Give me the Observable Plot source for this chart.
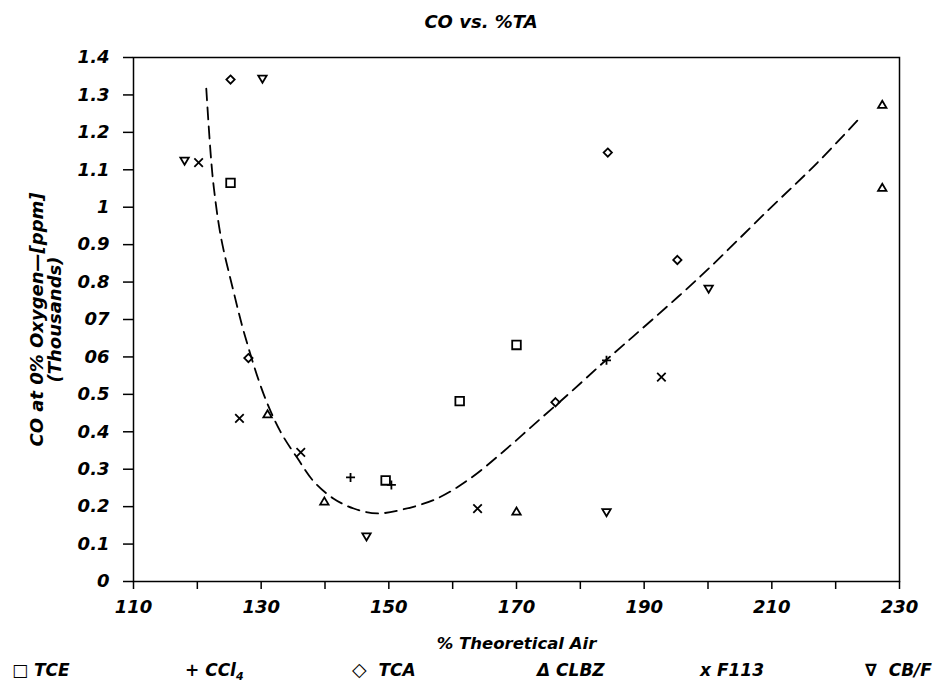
<!DOCTYPE html>
<html>
<head>
<meta charset="utf-8">
<script src="https://cdn.jsdelivr.net/npm/d3@7"></script>
<script src="https://cdn.jsdelivr.net/npm/@observablehq/plot@0.6"></script>
<style>
  html, body { margin: 0; padding: 0; background: #fff; }
  #wrap { position: relative; width: 949px; height: 684px; overflow: hidden; font-family: "DejaVu Sans", sans-serif; }
  #title { position: absolute; top: 11px; left: 481px; transform: translateX(-50%); font-size: 18px; font-style: italic; font-weight: bold; white-space: nowrap; }
  .leg { position: absolute; top: 661px; font-size: 17px; line-height: 18px; font-style: italic; font-weight: bold; white-space: nowrap; }
  .leg sub { font-size: 11px; line-height: 0; }
  .leg .dia { font-size: 19px; line-height: 0; font-style: normal; }
</style>
</head>
<body>
<div id="wrap">
  <div id="chart"></div>
  <div id="title">CO vs. %TA</div>
  <div id="legend"></div>
</div>
<script>
// ---- data ----
const seriesNames = ["TCE", "CCl4", "TCA", "CLBZ", "F113", "CB/F"];
const tceX = [125.2, 149.5, 161.1, 170.0];
const tceY = [1.065, 0.270, 0.482, 0.632];
const ccl4X = [144.0, 150.4, 184.1];
const ccl4Y = [0.278, 0.258, 0.591];
const tcaX = [125.2, 128.0, 176.1, 184.3, 195.2];
const tcaY = [1.341, 0.597, 0.479, 1.146, 0.859];
const clbzX = [131.0, 139.9, 170.0, 227.3, 227.3];
const clbzY = [0.447, 0.214, 0.187, 1.274, 1.052];
const f113X = [120.2, 126.6, 136.2, 163.9, 192.7];
const f113Y = [1.119, 0.436, 0.345, 0.195, 0.546];
const cbfX = [118.0, 130.2, 146.5, 184.1, 200.1];
const cbfY = [1.124, 1.343, 0.120, 0.185, 0.782];
const curveX = [121.4, 122.1, 122.6, 123.7, 125.6, 127.4, 130.4, 133.0, 135.7, 138.2, 141.3, 144.5, 148.2, 152.3, 157.6, 162.8, 168.0, 173.3, 178.5, 183.6, 188.3, 198.8, 209.3, 217.2, 223.7];
const curveY = [1.317, 1.140, 1.050, 0.920, 0.780, 0.660, 0.500, 0.401, 0.329, 0.268, 0.222, 0.195, 0.182, 0.193, 0.222, 0.276, 0.348, 0.428, 0.506, 0.585, 0.655, 0.815, 0.990, 1.120, 1.237];
const xTicks = [110, 120, 130, 140, 150, 160, 170, 180, 190, 200, 210, 220, 230];
const xTickLabels = ["110", "", "130", "", "150", "", "170", "", "190", "", "210", "", "230"];
const yTicks = [0, 0.1, 0.2, 0.3, 0.4, 0.5, 0.6, 0.7, 0.8, 0.9, 1, 1.1, 1.2, 1.3, 1.4];
const yTickLabels = ["0", "0.1", "0.2", "0.3", "0.4", "0.5", "06", "07", "0.8", "0.9", "1", "1.1", "1.2", "1.3", "1.4"];
const xLabel = "% Theoretical Air";
const yLabel1 = "CO at 0% Oxygen\u2014[ppm]";
const yLabel2 = "(Thousands)";

// ---- custom symbols ----
const rad = s => Math.sqrt(s / Math.PI);
const symSquare = { draw(c, s) { const r = rad(s); c.rect(-r, -r, 2 * r, 2 * r); } };
const symDiamond = { draw(c, s) { const r = rad(s) * 1.15; c.moveTo(0, -r); c.lineTo(r, 0); c.lineTo(0, r); c.lineTo(-r, 0); c.closePath(); } };
const symTriUp = { draw(c, s) { const r = rad(s); c.moveTo(0, -0.95 * r); c.lineTo(r, 0.75 * r); c.lineTo(-r, 0.75 * r); c.closePath(); } };
const symTriDown = { draw(c, s) { const r = rad(s); c.moveTo(0, 0.95 * r); c.lineTo(r, -0.75 * r); c.lineTo(-r, -0.75 * r); c.closePath(); } };
const symPlus = { draw(c, s) { const r = rad(s); c.moveTo(-r, 0); c.lineTo(r, 0); c.moveTo(0, -r); c.lineTo(0, r); } };
const symTimes = { draw(c, s) { const r = rad(s) * 0.85; c.moveTo(-r, -r); c.lineTo(r, r); c.moveTo(-r, r); c.lineTo(r, -r); } };

const zipPts = (xs, ys) => xs.map((x, i) => ({x, y: ys[i]}));
const series = [
  {pts: zipPts(tceX, tceY), sym: symSquare, r: 4.3},
  {pts: zipPts(ccl4X, ccl4Y), sym: symPlus, r: 4.5},
  {pts: zipPts(tcaX, tcaY), sym: symDiamond, r: 3.6},
  {pts: zipPts(clbzX, clbzY), sym: symTriUp, r: 4.2},
  {pts: zipPts(f113X, f113Y), sym: symTimes, r: 5},
  {pts: zipPts(cbfX, cbfY), sym: symTriDown, r: 4.2}
];
const curve = zipPts(curveX, curveY);

const plot = Plot.plot({
  width: 949,
  height: 684,
  marginLeft: 133,
  marginRight: 50,
  marginTop: 57,
  marginBottom: 103,
  style: {fontFamily: "DejaVu Sans, sans-serif", fontSize: "18px", fontWeight: "bold", fontStyle: "italic", color: "black", background: "white"},
  x: {domain: [110, 230]},
  y: {domain: [0, 1.4]},
  marks: [
    Plot.frame({stroke: "black", strokeWidth: 1.5}),
    Plot.axisY({ticks: yTicks, tickFormat: d => yTickLabels[Math.round(d * 10)], tickSize: 10, tickPadding: 14, strokeWidth: 1.5, label: null}),
    Plot.axisX({ticks: xTicks, tickFormat: d => xTickLabels[Math.round((d - 110) / 10)], tickSize: 8, tickPadding: 11, strokeWidth: 1.5, label: null}),
    Plot.text([xLabel], {frameAnchor: "bottom", dy: 67, lineAnchor: "bottom", fontSize: 16.5}),
    Plot.text([yLabel1], {frameAnchor: "left", textAnchor: "middle", rotate: -90, dx: -96, fontSize: 18}),
    Plot.text([yLabel2], {frameAnchor: "left", textAnchor: "middle", rotate: -90, dx: -78, fontSize: 18}),
    Plot.line(curve, {x: "x", y: "y", curve: "catmull-rom", stroke: "black", strokeWidth: 1.8, strokeDasharray: "12,7"}),
    ...series.map(s => Plot.dot(s.pts, {x: "x", y: "y", symbol: s.sym, r: s.r, fill: "none", stroke: "black", strokeWidth: 1.8}))
  ]
});
document.getElementById("chart").appendChild(plot);

// ---- legend ----
const legendItems = [
  {html: "\u25A1 TCE", left: 12},
  {html: "+ CCl<sub>4</sub>", left: 185},
  {html: "<span class='dia'>\u25C7</span>&nbsp; TCA", left: 352},
  {html: "\u0394 CLBZ", left: 537},
  {html: "x F113", left: 700},
  {html: "\u2207&nbsp; CB/F", left: 865}
];
const leg = document.getElementById("legend");
legendItems.forEach((it, i) => {
  const el = document.createElement("div");
  el.className = "leg";
  el.style.left = it.left + "px";
  el.innerHTML = it.html;
  el.title = seriesNames[i];
  leg.appendChild(el);
});
</script>
</body>
</html>
